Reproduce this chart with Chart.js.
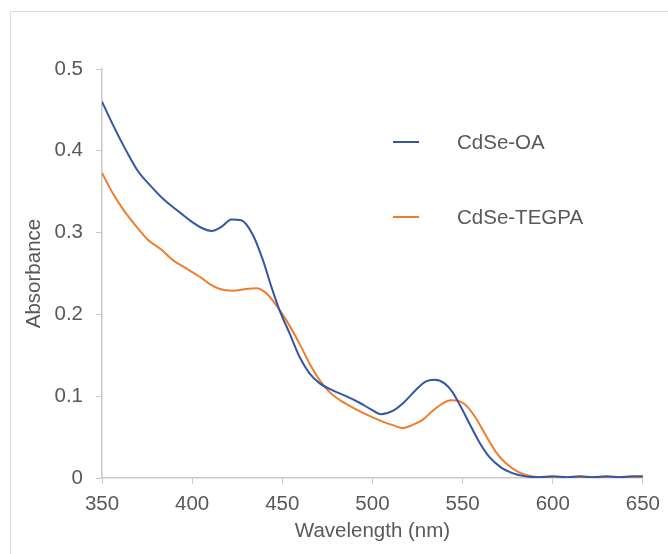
<!DOCTYPE html>
<html>
<head>
<meta charset="utf-8">
<script src="https://cdn.jsdelivr.net/npm/chart.js@4"></script>
<style>
  html, body { margin: 0; padding: 0; background: #fff; }
  #wrap { width: 668px; height: 554px; }
</style>
</head>
<body>
<div id="wrap"><canvas id="chart" width="668" height="554"></canvas></div>
<script>
// Wavelength (nm) / absorbance
const wlOA = [350, 356, 363.7, 370, 376.6, 384, 391.3, 398.7, 406, 410.7, 416.2, 421.8, 427.3, 433.7, 439.3, 443.9, 448.5, 454, 459.6, 465.1, 470.6, 478, 485.4, 492.8, 499.2, 504.8, 511.2, 517.7, 524.2, 529.7, 534.3, 539.8, 544.4, 549, 553.7, 559.2, 564.7, 571.2, 577.6, 585, 592, 600, 608, 615, 622, 630, 637, 644, 650];
const absOA = [0.460, 0.432, 0.399, 0.375, 0.358, 0.341, 0.328, 0.315, 0.305, 0.302, 0.307, 0.316, 0.315, 0.297, 0.266, 0.234, 0.205, 0.177, 0.148, 0.128, 0.116, 0.107, 0.100, 0.092, 0.084, 0.078, 0.082, 0.093, 0.108, 0.118, 0.120, 0.116, 0.105, 0.087, 0.067, 0.044, 0.026, 0.013, 0.006, 0.002, 0.001, 0.002, 0.001, 0.002, 0.001, 0.002, 0.001, 0.002, 0.002];

const wlTEGPA = [350, 356, 361.8, 369.2, 375.6, 383, 389.5, 396.9, 404.2, 409.8, 415.3, 422.7, 430, 435.6, 441.1, 446.7, 452.2, 459.6, 465.1, 470.6, 476.2, 483.5, 490.9, 498.3, 505.7, 512.1, 516.7, 522.3, 527.8, 533.3, 538.8, 543.5, 548.1, 552.7, 557.4, 562.9, 568.4, 574, 581.3, 588.7, 595, 605, 620, 635, 650];
const absTEGPA = [0.373, 0.348, 0.328, 0.307, 0.291, 0.279, 0.266, 0.256, 0.246, 0.237, 0.231, 0.229, 0.231, 0.232, 0.226, 0.211, 0.193, 0.164, 0.140, 0.120, 0.105, 0.093, 0.084, 0.076, 0.069, 0.064, 0.061, 0.065, 0.071, 0.082, 0.091, 0.095, 0.094, 0.087, 0.073, 0.052, 0.032, 0.018, 0.007, 0.002, 0.001, 0.001, 0.001, 0.001, 0.001];

const seriesNames = ['CdSe-OA', 'CdSe-TEGPA'];
const seriesColors = ['#3257a3', '#ef7d2f'];
const xTicks = [350, 400, 450, 500, 550, 600, 650];
const yTicks = [0, 0.1, 0.2, 0.3, 0.4, 0.5];

const textColor = '#595959';
const axisColor = '#c9c9c9';
const fontFamily = '"Liberation Sans", Arial, Helvetica, sans-serif';

const toPoints = (xs, ys) => xs.map((x, i) => ({ x, y: ys[i] }));

// frame + white background
const framePlugin = {
  id: 'frame',
  beforeDraw(chart) {
    const ctx = chart.ctx;
    ctx.save();
    ctx.fillStyle = '#fff';
    ctx.fillRect(0, 0, chart.width, chart.height);
    ctx.strokeStyle = '#dcdcdc';
    ctx.lineWidth = 1;
    ctx.strokeRect(10.5, 11.5, 800, 700);
    ctx.restore();
  }
};

// legend sitting inside the plot, Excel style
const insideLegend = {
  id: 'insideLegend',
  afterDraw(chart) {
    const ctx = chart.ctx;
    ctx.save();
    ctx.font = '20.5px ' + fontFamily;
    ctx.textBaseline = 'middle';
    ctx.lineWidth = 2;
    const rows = [142, 217];
    chart.data.datasets.forEach((ds, i) => {
      const y = rows[i];
      ctx.strokeStyle = ds.borderColor;
      ctx.beginPath();
      ctx.moveTo(393, y);
      ctx.lineTo(419, y);
      ctx.stroke();
      ctx.fillStyle = textColor;
      ctx.fillText(ds.label, 457, y + 1);
    });
    ctx.restore();
  }
};

new Chart(document.getElementById('chart'), {
  type: 'line',
  data: {
    datasets: [
      { label: seriesNames[0], data: toPoints(wlOA, absOA), borderColor: seriesColors[0] },
      { label: seriesNames[1], data: toPoints(wlTEGPA, absTEGPA), borderColor: seriesColors[1] }
    ].map(d => Object.assign(d, {
      borderWidth: 2,
      pointRadius: 0,
      fill: false,
      cubicInterpolationMode: 'monotone'
    }))
  },
  options: {
    responsive: false,
    animation: false,
    events: [],
    layout: { padding: { top: 69, right: 24, left: 0, bottom: 0 } },
    plugins: { legend: { display: false }, tooltip: { enabled: false } },
    scales: {
      x: {
        type: 'linear',
        min: xTicks[0],
        max: xTicks[xTicks.length - 1],
        afterBuildTicks: s => { s.ticks = xTicks.map(v => ({ value: v })); },
        afterFit: s => { s.height = 76; },
        grid: { drawOnChartArea: false, drawTicks: true, tickLength: 6, color: axisColor },
        border: { display: true, color: axisColor, width: 1.5 },
        ticks: { color: textColor, font: { family: fontFamily, size: 20.5 }, padding: 8, maxRotation: 0 },
        title: {
          display: true,
          text: 'Wavelength (nm)',
          color: textColor,
          font: { family: fontFamily, size: 20.5 },
          padding: { top: 0, bottom: 10 }
        }
      },
      y: {
        min: yTicks[0],
        max: yTicks[yTicks.length - 1],
        afterBuildTicks: s => { s.ticks = yTicks.map(v => ({ value: v })); },
        afterFit: s => { s.width = 102; },
        grid: { drawOnChartArea: false, drawTicks: true, tickLength: 6, color: axisColor },
        border: { display: true, color: axisColor, width: 1.5 },
        ticks: { color: textColor, font: { family: fontFamily, size: 20.5 }, padding: 13,
          callback: v => String(Math.round(v * 10) / 10) },
        title: {
          display: true,
          text: 'Absorbance',
          color: textColor,
          font: { family: fontFamily, size: 20.5 },
          padding: { top: 22, bottom: 0 }
        }
      }
    }
  },
  plugins: [framePlugin, insideLegend]
});
</script>
</body>
</html>
